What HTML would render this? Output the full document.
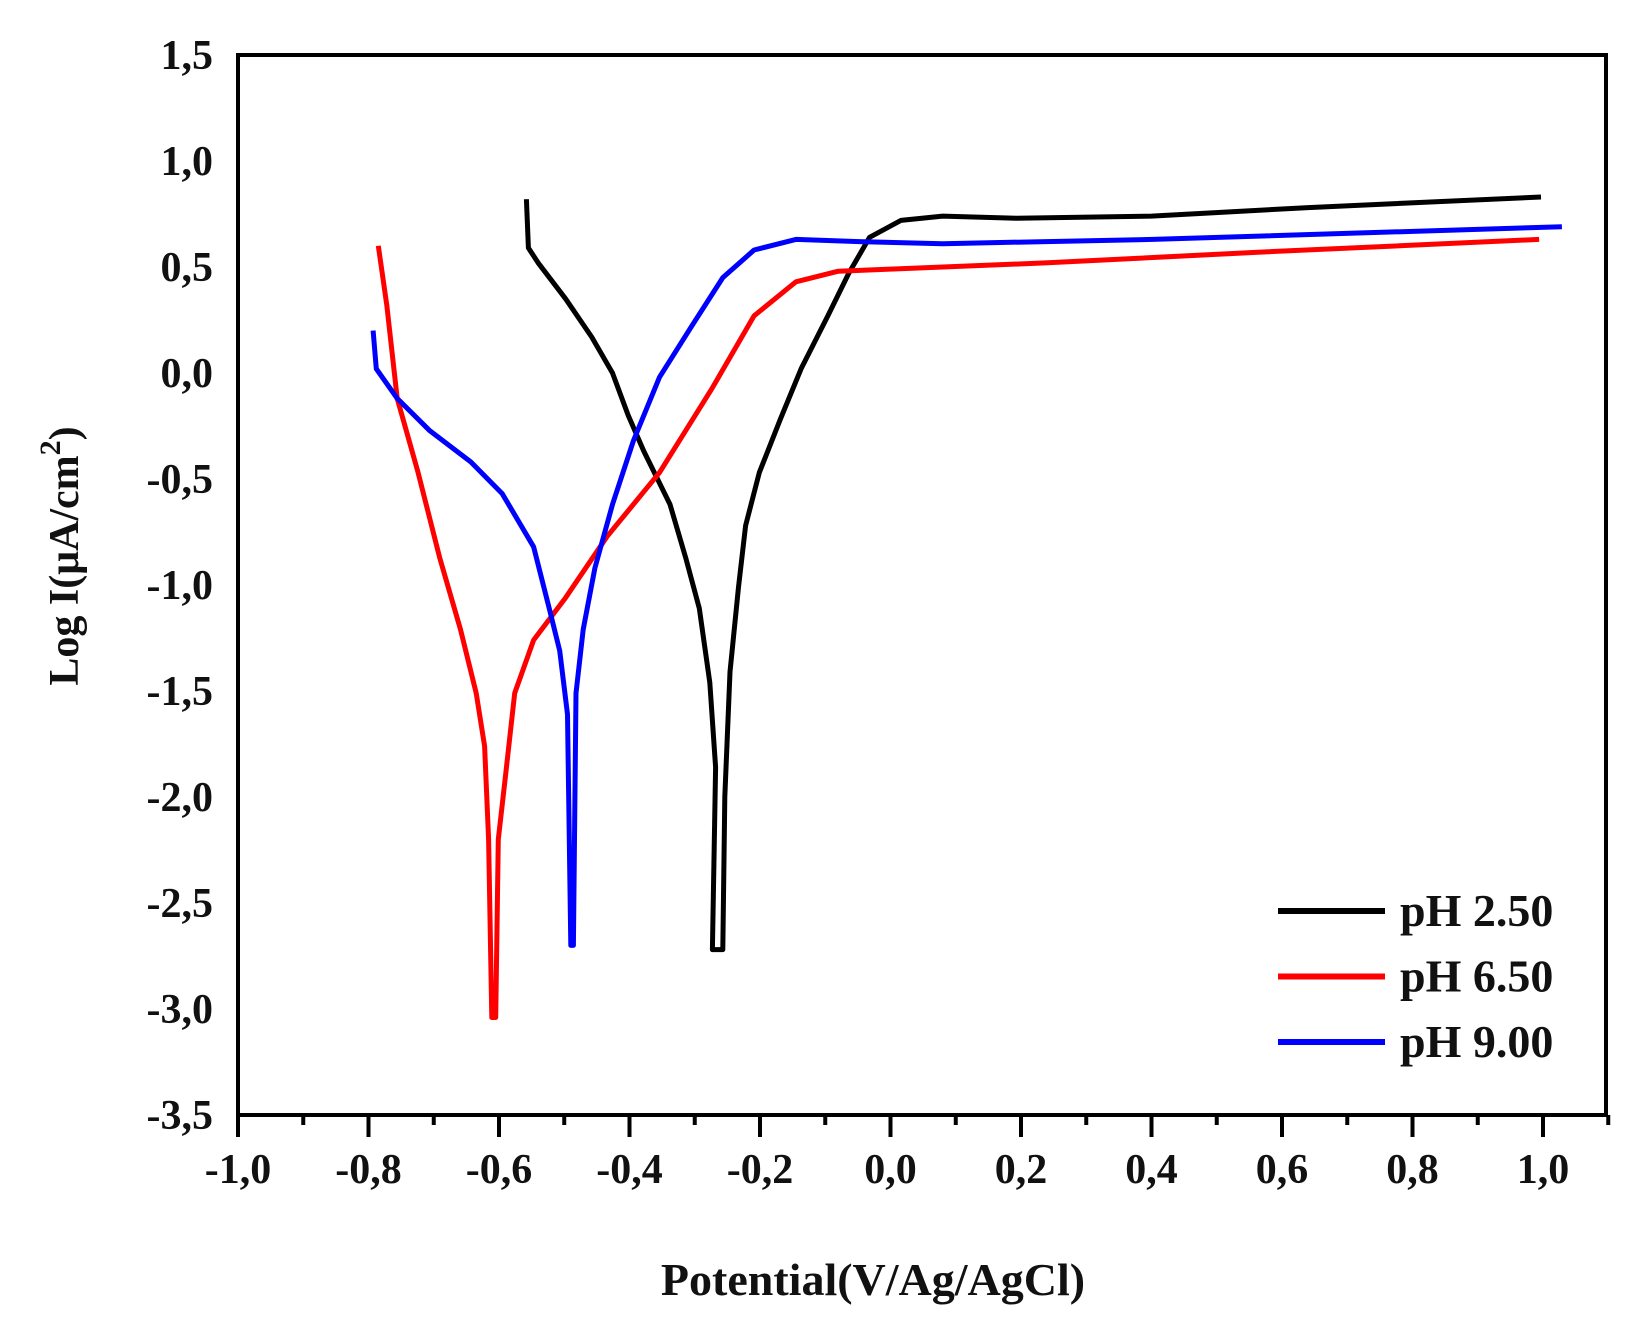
<!DOCTYPE html>
<html><head><meta charset="utf-8">
<style>
html,body{margin:0;padding:0;background:#fff;}
svg{display:block;}
text{font-family:"Liberation Serif",serif;font-weight:bold;fill:#111;}
</style></head>
<body>
<svg id="chart" width="1643" height="1326" viewBox="0 0 1643 1326" xmlns="http://www.w3.org/2000/svg">
<rect x="0" y="0" width="1643" height="1326" fill="#fff"/>
<g id="series"></g>
<rect x="238" y="55" width="1368" height="1060" fill="none" stroke="#000" stroke-width="4"/>
<g id="axes"></g>
<text x="873" y="1295" font-size="46" text-anchor="middle">Potential(V/Ag/AgCl)</text>
<text transform="translate(78,556) rotate(-90)" font-size="42" text-anchor="middle">Log I(μA/cm<tspan dy="-18" font-size="30">2</tspan><tspan dy="18">)</tspan></text>
<g id="legend"></g>
</svg>
<script>
const xTicks=[-1.0,-0.8,-0.6,-0.4,-0.2,0.0,0.2,0.4,0.6,0.8,1.0];
const yTicks=[1.5,1.0,0.5,0.0,-0.5,-1.0,-1.5,-2.0,-2.5,-3.0,-3.5];
const seriesNames=["pH 2.50","pH 6.50","pH 9.00"];
const seriesColors=["#000","#ff0000","#0000ff"];
const blackX=[-0.558,-0.555,-0.540,-0.498,-0.458,-0.426,-0.402,-0.378,-0.338,-0.314,-0.293,-0.277,-0.268,-0.273,-0.257,-0.254,-0.246,-0.233,-0.222,-0.201,-0.169,-0.137,-0.096,-0.064,-0.032,0.016,0.08,0.193,0.40,0.64,0.997];
const blackY=[0.82,0.59,0.52,0.35,0.17,0.0,-0.2,-0.37,-0.62,-0.87,-1.11,-1.46,-1.86,-2.72,-2.72,-2.0,-1.41,-1.01,-0.72,-0.47,-0.22,0.02,0.27,0.47,0.64,0.72,0.74,0.73,0.74,0.78,0.83];
const redX=[-0.785,-0.772,-0.756,-0.724,-0.691,-0.659,-0.635,-0.622,-0.616,-0.611,-0.605,-0.601,-0.590,-0.576,-0.547,-0.498,-0.434,-0.354,-0.273,-0.209,-0.145,-0.080,0.0,0.241,0.563,0.994];
const redY=[0.60,0.32,-0.12,-0.47,-0.87,-1.21,-1.51,-1.76,-2.2,-3.04,-3.04,-2.2,-1.9,-1.51,-1.26,-1.06,-0.77,-0.47,-0.07,0.27,0.43,0.48,0.49,0.52,0.57,0.63];
const blueX=[-0.793,-0.788,-0.756,-0.707,-0.643,-0.595,-0.547,-0.523,-0.507,-0.495,-0.490,-0.486,-0.482,-0.471,-0.453,-0.426,-0.394,-0.354,-0.305,-0.257,-0.209,-0.145,-0.048,0.08,0.402,1.029];
const blueY=[0.20,0.02,-0.12,-0.27,-0.42,-0.57,-0.82,-1.11,-1.31,-1.61,-2.70,-2.70,-1.51,-1.21,-0.92,-0.62,-0.32,-0.02,0.22,0.45,0.58,0.63,0.62,0.61,0.63,0.69];

const NS="http://www.w3.org/2000/svg";
const X0=238,XS=652.5,Y0=55,YS=212;
function sx(v){return X0+(v+1)*XS;}
function sy(v){return Y0+(1.5-v)*YS;}
function mk(tag,attrs,parent){const e=document.createElementNS(NS,tag);for(const k in attrs)e.setAttribute(k,attrs[k]);parent.appendChild(e);return e;}
const axes=document.getElementById('axes');
xTicks.forEach(v=>{
  const t=mk('line',{x1:sx(v),x2:sx(v),y1:1115,y2:1137,stroke:'#000','stroke-width':4},axes);
  
  
  const l=mk('text',{x:sx(v),y:1183,'font-size':42,'text-anchor':'middle'},axes);
  l.textContent=v.toFixed(1).replace('.',',');
  
  
});
for(let i=0;i<11;i++){const v=-0.9+i*0.2;
  const t=mk('line',{x1:sx(v),x2:sx(v),y1:1115,y2:1125,stroke:'#000','stroke-width':4},axes);
  
  
}
yTicks.forEach(v=>{
  const l=mk('text',{x:213,y:sy(v)+14,'font-size':42,'text-anchor':'end'},axes);
  l.textContent=v.toFixed(1).replace('.',',');
  
  
});
const sg=document.getElementById('series');
[[blackX,blackY],[redX,redY],[blueX,blueY]].forEach((s,i)=>{
  const pts=s[0].map((x,j)=>sx(x).toFixed(1)+','+sy(s[1][j]).toFixed(1)).join(' ');
  const p=mk('polyline',{points:pts,fill:'none',stroke:seriesColors[i],'stroke-width':5,'stroke-linejoin':'round'},sg);
  
  
});
const lg=document.getElementById('legend');


seriesNames.forEach((n,i)=>{
  const y=911+i*65.5;
  const l=mk('line',{x1:1278,x2:1385,y1:y,y2:y,stroke:seriesColors[i],'stroke-width':6},lg);
  
  
  const t=mk('text',{x:1400,y:y+15,'font-size':46},lg);
  t.textContent=n;
  
  
});
</script>
</body></html>
